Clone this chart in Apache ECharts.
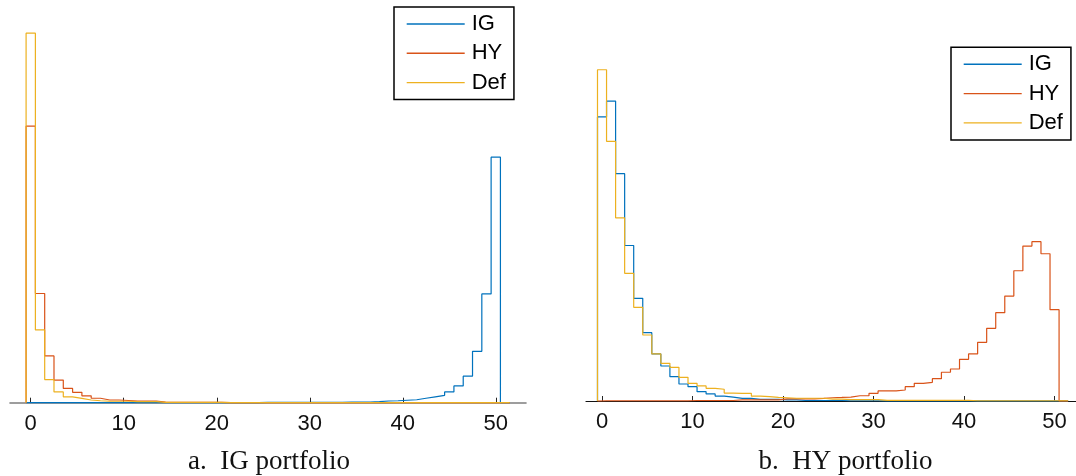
<!DOCTYPE html>
<html>
<head>
<meta charset="utf-8">
<script src="https://cdn.jsdelivr.net/npm/echarts@6/dist/echarts.min.js"></script>
<style>
  html, body { margin: 0; padding: 0; background: #fff; }
  #chart { width: 1076px; height: 476px; }
</style>
</head>
<body>
<div id="chart"></div>
<script>
// Share of simulated paths ending in each bin (0..51), as probabilities.
const binCentres = Array.from({ length: 52 }, (_, i) => i);
const tickValues = [0, 10, 20, 30, 40, 50];
const seriesNames = ['IG', 'HY', 'Def'];
const captions = ['a.  IG portfolio', 'b.  HY portfolio'];

// Panel a: IG portfolio
const igPortIG = [
  0.0002, 0.0002, 0.0002, 0.0002, 0.0002, 0.0002, 0.0002, 0.0002, 0.0002, 0.0002,
  0.0002, 0.0002, 0.0002, 0.0002, 0.0002, 0.0002, 0.0002, 0.0002, 0.0002, 0.0002,
  0.0002, 0.0002, 0.0002, 0.0002, 0.0002, 0.0006, 0.0006, 0.0006, 0.0006, 0.0006,
  0.0006, 0.0006, 0.0006, 0.0006, 0.0012, 0.0012, 0.0012, 0.002, 0.0035, 0.004,
  0.005, 0.006, 0.009, 0.012, 0.015, 0.022, 0.034, 0.054, 0.1045, 0.221,
  0.499, 0
];
const igPortHY = [
  0.562, 0.222, 0.095, 0.046, 0.029, 0.021, 0.014, 0.009, 0.0055, 0.0055,
  0.0045, 0.0035, 0.0035, 0.0035, 0.001, 0.0006, 0.0006, 0.0006, 0.0006, 0.0006,
  0.0006, 0.0003, 0.0003, 0.0003, 0.0003, 0.0003, 0.0003, 0.0003, 0.0003, 0.0003,
  0.0003, 0.0001, 0.0001, 0.0001, 0.0001, 0.0001, 0.0001, 0.0001, 0.0001, 0.0001,
  0.0001, 0.0001, 0.0001, 0.0001, 0.0001, 0.0001, 0.0001, 0.0001, 0.0001, 0.0001,
  0.0001, 0.0001
];
const igPortDef = [
  0.751, 0.148, 0.047, 0.022, 0.012, 0.0089, 0.0055, 0.004, 0.0029, 0.0029,
  0.0029, 0.002, 0.002, 0.002, 0.0005, 0.0005, 0.0005, 0.0005, 0.0005, 0.0005,
  0.0005, 0.0002, 0.0002, 0.0002, 0.0002, 0.0002, 0.0002, 0.0002, 0.0002, 0.0002,
  0.0002, 0.0002, 0.0002, 0.0002, 0.0002, 0.0002, 0.0002, 0.0002, 0.0002, 0.0002,
  0.0002, 0.0002, 0.0002, 0.0002, 0.0002, 0.0002, 0.0002, 0.0002, 0.0002, 0.0002,
  0.0002, 0.0002
];

// Panel b: HY portfolio
const hyPortIG = [
  0.2175, 0.2295, 0.174, 0.119, 0.0786, 0.0523, 0.036, 0.0268, 0.0186, 0.013,
  0.011, 0.0071, 0.0054, 0.0038, 0.003, 0.002, 0.002, 0.0013, 0.0013, 0.0013,
  0.0008, 0.0008, 0.0004, 0.0004, 0.0004, 0.0004, 0.0004, 0.0002, 0.0002, 0.0002,
  0.0002, 0.0001, 0.0001, 0.0001, 0.0001, 0.0001, 0.0001, 0.0001, 0.0001, 0.0001,
  0.0001, 0.0001, 0.0001, 0.0001, 0.0001, 0.0001, 0.0001, 0.0001, 0.0001, 0.0001,
  0.0001, 0.0001
];
const hyPortHY = [
  0.0002, 0.0002, 0.0002, 0.0002, 0.0002, 0.0002, 0.0002, 0.0002, 0.0002, 0.0002,
  0.0004, 0.0004, 0.0004, 0.0004, 0.0004, 0.0008, 0.0008, 0.0008, 0.0008, 0.0008,
  0.0016, 0.0016, 0.0016, 0.0016, 0.002, 0.0025, 0.0027, 0.003, 0.004, 0.004,
  0.0059, 0.0077, 0.0077, 0.0084, 0.011, 0.0135, 0.0143, 0.0171, 0.022, 0.0245,
  0.0319, 0.036, 0.0449, 0.0556, 0.0676, 0.0803, 0.0997, 0.1186, 0.1219, 0.1127,
  0.0699, 0
];
const hyPortDef = [
  0.2535, 0.1987, 0.1402, 0.0977, 0.0717, 0.0505, 0.036, 0.0288, 0.0258, 0.0181,
  0.0135, 0.0115, 0.0097, 0.009, 0.0061, 0.0059, 0.0059, 0.0038, 0.0033, 0.0027,
  0.0025, 0.0021, 0.0021, 0.0021, 0.0021, 0.0015, 0.0015, 0.001, 0.001, 0.001,
  0.001, 0.0005, 0.0005, 0.0005, 0.0005, 0.0005, 0.0005, 0.0005, 0.0005, 0.0005,
  0.0005, 0.0002, 0.0002, 0.0002, 0.0002, 0.0002, 0.0002, 0.0002, 0.0002, 0.0002,
  0.0002, 0.0002
];

const palette = { IG: '#0072BD', HY: '#D95319', Def: '#EDB120' };

// Outline of a unit-width histogram: rises at the first left edge,
// runs across each bin and falls back to zero after the last one.
function stairs(values) {
  const half = 0.5;
  const pts = [[binCentres[0] - half, 0]];
  values.forEach((v, i) => pts.push([binCentres[i] - half, v]));
  const last = binCentres[values.length - 1] + half;
  pts.push([last, values[values.length - 1]]);
  pts.push([last, 0]);
  return pts;
}

const panels = [
  { data: { IG: igPortIG, HY: igPortHY, Def: igPortDef }, yMax: 0.8, xMin: -2.23, xMax: 53.25, axisColor: '#7d7d7d', axisWidth: 1.6 },
  { data: { IG: hyPortIG, HY: hyPortHY, Def: hyPortDef }, yMax: 0.3, xMin: -1.77, xMax: 52.37, axisColor: '#111111', axisWidth: 1.2 }
];

const sansFont = 'Liberation Sans, Arial, Helvetica, sans-serif';

const option = {
  animation: false,
  backgroundColor: '#ffffff',
  grid: [
    { left: 10, width: 516, top: 9.1, bottom: 73.3 },
    { left: 586, right: 0, top: 9, bottom: 75 }
  ],
  xAxis: panels.map((p, i) => ({
    gridIndex: i,
    type: 'value',
    min: p.xMin,
    max: p.xMax,
    axisLine: { show: true, onZero: false, lineStyle: { color: p.axisColor, width: p.axisWidth } },
    axisTick: { show: true, inside: true, length: 5, customValues: tickValues, lineStyle: { color: '#262626', width: 1 } },
    axisLabel: { customValues: tickValues, margin: 10, color: '#111', fontFamily: sansFont, fontSize: 22 },
    splitLine: { show: false }
  })),
  yAxis: panels.map((p, i) => ({
    gridIndex: i,
    type: 'value',
    min: 0,
    max: p.yMax,
    show: false,
    splitLine: { show: false }
  })),
  legend: [
    { left: 394, top: 7 },
    { left: 951, top: 47.3 }
  ].map(pos => ({
    data: seriesNames,
    orient: 'vertical',
    left: pos.left,
    top: pos.top,
    itemWidth: 58,
    itemHeight: 22,
    itemGap: 7.3,
    padding: [6, 8, 6, 12],
    borderColor: '#000',
    borderWidth: 1.5,
    borderRadius: 0,
    backgroundColor: '#fff',
    selectedMode: false,
    itemStyle: { opacity: 0 },
    lineStyle: { width: 1.4 },
    textStyle: { fontFamily: sansFont, fontSize: 22, lineHeight: 22, color: '#000', padding: [0, 0, 0, 2] }
  })),
  series: [],
  graphic: captions.map((text, i) => ({
    type: 'text',
    x: i === 0 ? 269 : 845.5,
    y: 462,
    style: {
      text: text,
      font: '27px "Liberation Serif", "Times New Roman", serif',
      fill: '#111',
      textAlign: 'center',
      textVerticalAlign: 'middle'
    }
  }))
};

panels.forEach((p, i) => {
  seriesNames.forEach(name => {
    option.series.push({
      name: name,
      type: 'line',
      xAxisIndex: i,
      yAxisIndex: i,
      step: 'end',
      symbol: 'none',
      clip: false,
      color: palette[name],
      lineStyle: { color: palette[name], width: 1.2 },
      data: stairs(p.data[name])
    });
  });
});

const chart = echarts.init(document.getElementById('chart'), null, { renderer: 'canvas' });
chart.setOption(option);
</script>
</body>
</html>
